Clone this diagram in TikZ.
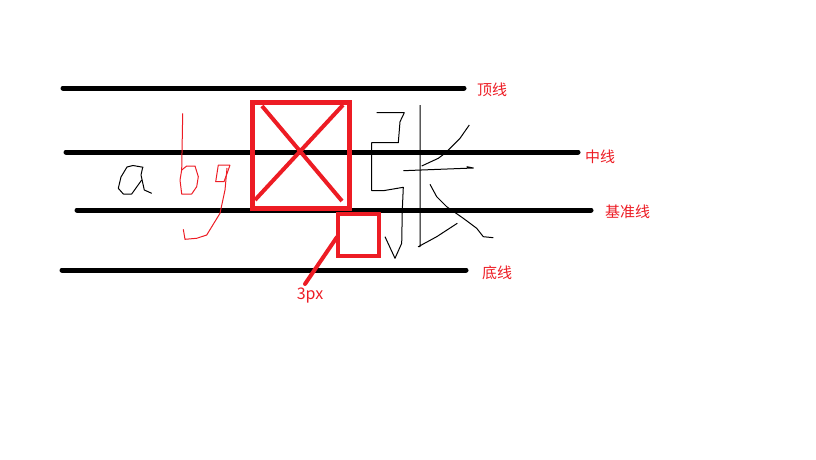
\documentclass[tikz,border=0pt]{standalone}
\usepackage{fontspec}
\newfontfamily\cjk{Noto Sans CJK SC}
\usepackage{xcolor}
\definecolor{paintred}{RGB}{237,28,36}

\begin{document}
\begin{tikzpicture}[
    x=1pt, y=-1pt,
    guide/.style={line width=5pt, line cap=round, black},
    label/.style={anchor=west, inner sep=0pt, text=paintred,
                  font=\cjk\fontsize{15}{17}\selectfont},
    redbox/.style={draw=paintred, line width=5pt},
    cross/.style={paintred, line width=4pt},
    hand/.style={line width=1pt, line join=round},
  ]
  \useasboundingbox (0,0) rectangle (816,460);

  % Guide lines
  \coordinate (topL) at (63,88);   \coordinate (topR) at (464,88);
  \coordinate (midL) at (66,152);  \coordinate (midR) at (578,152);
  \coordinate (baseL) at (77,210); \coordinate (baseR) at (591,210);
  \coordinate (botL) at (62,270);  \coordinate (botR) at (466,270);
  \draw[guide] (topL) -- (topR);
  \draw[guide] (midL) -- (midR);
  \draw[guide] (baseL) -- (baseR);
  \draw[guide] (botL) -- (botR);

  % Line names
  \node[label] (toplabel) at (477,90) {顶线};
  \node[label] (midlabel) at (585,157) {中线};
  \node[label] (baselabel) at (605,212) {基准线};
  \node[label] (botlabel) at (482,273) {底线};

  % Em box with cross
  \draw[redbox] (252,102) rectangle (349,208);
  \draw[cross] (262,106) -- (342,201);
  \draw[cross] (343,105) -- (255,200);

  % Small gap box and pointer
  \draw[redbox, line width=4pt] (338,214) rectangle (379,256);
  \coordinate (gap) at (337,237);
  \node[label, anchor=center, font=\cjk\fontsize{16}{18}\selectfont]
       (gaplabel) at (310,296) {3px};
  \draw[paintred, line width=4pt, line cap=round] (gap) -- (305,284);

  % Handwritten a
  \draw[hand] (143.3,167.3) -- (133,165.5) -- (127,167) -- (121,177) -- (118.3,188.3)
    -- (123.3,194) -- (131.7,194) -- (141.7,180);
  \draw[hand] (142.7,167.3) -- (141,175) -- (144.3,190) -- (151.7,193.3);

  % Handwritten b and g
  \draw[hand, paintred] (182.7,113.3) -- (181.7,170);
  \draw[hand, paintred] (181.7,170) -- (186.7,166) -- (195,166) -- (198.3,176.7)
    -- (196.7,186.7) -- (191.7,194) -- (181.7,194) -- (180,180) -- (181.7,170);
  \draw[hand, paintred] (230,165) -- (218.3,165) -- (215.7,181.7) -- (224,181.7)
    -- (227.7,171.7) -- (230,165);
  \draw[hand, paintred] (227,168) -- (225,190) -- (220,213.3) -- (206.7,235)
    -- (196.7,238.3) -- (185,239.3) -- (183.3,229.3);

  % Handwritten zhang
  \draw[hand] (376.7,112.7) -- (404.3,112.7) -- (400,121.7) -- (398.3,142.7)
    -- (371.7,142.7) -- (371.7,190.7) -- (383.3,190.7) -- (403.3,187.3)
    -- (402.3,210) -- (401.7,243.3) -- (395,258.3) -- (385,236.7);
  \draw[hand] (420,105) -- (420,246.7) -- (418.3,246.7) -- (436.7,236.7) -- (457.3,223.3);
  \draw[hand] (469.3,125) -- (460,138.3) -- (445,153.3) -- (438.3,158.3) -- (421.7,166);
  \draw[hand] (403.3,170.7) -- (473.3,168) -- (466.7,166.7);
  \draw[hand] (430,184.3) -- (436.7,196.7) -- (446.7,206.7) -- (463.3,218.3)
    -- (476.7,228.3) -- (483.3,236.7) -- (493.3,237.7);
\end{tikzpicture}
\end{document}
